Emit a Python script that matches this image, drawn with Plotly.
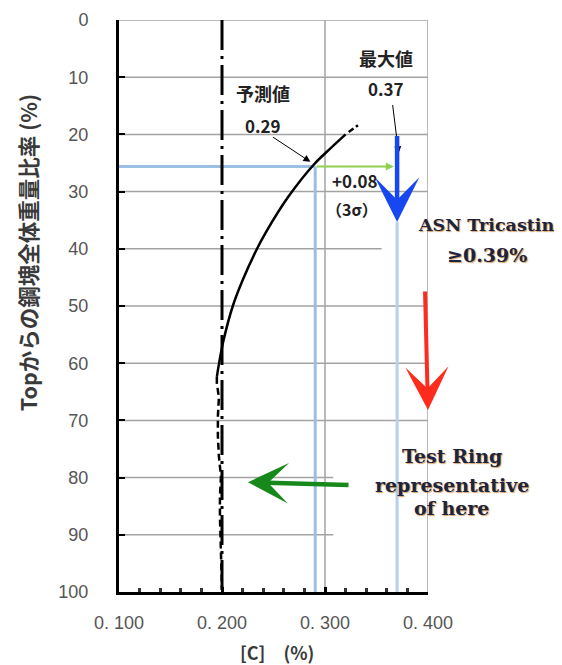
import plotly.graph_objects as go

# ---------------- data ----------------
# main black curve (solid part): carbon [%] vs depth from top [%]
curve_c = [0.320, 0.305, 0.289, 0.264, 0.243, 0.234, 0.220, 0.2105, 0.2015, 0.1966, 0.195]
curve_d = [20.0, 22.5, 25.3, 31.0, 37.0, 40.0, 45.5, 50.0, 56.0, 60.6, 62.4]
# dashed extension at top
top_ext_c = [0.323, 0.332]
top_ext_d = [19.6, 18.4]
# dashed lower part
low_c = [0.195, 0.195, 0.197, 0.196, 0.196, 0.197, 0.199, 0.198, 0.198, 0.199, 0.200, 0.200]
low_d = [62.4, 63.5, 66.0, 69.3, 72.8, 76.3, 79.8, 83.3, 86.8, 91.5, 96.2, 99.6]

ref_c = 0.200          # dash-dot reference line
pred_c = 0.2905        # predicted value 0.29
pred_d = 25.6          # depth where predicted value is read
max_c = 0.370          # maximum value 0.37
max_arrow_top = 20.0
max_arrow_tip = 35.3

x_tick_vals = [0.1, 0.2, 0.3, 0.4]
x_tick_text = ["0. 100", "0. 200", "0. 300", "0. 400"]
y_tick_vals = [0, 10, 20, 30, 40, 50, 60, 70, 80, 90, 100]
grid_rows = [10, 20, 30, 40, 50, 60, 70, 80, 90]
grid_row_end = [0.4, 0.4, 0.4, 0.355, 0.4, 0.4, 0.4, 0.308, 0.308]

CJK = "Noto Sans CJK JP"
SERIF = "DejaVu Serif"
NAVY = "#1d2440"
SHADOW = "1px 1px 1px rgba(205,130,50,0.75)"

fig = go.Figure()

GRID = dict(color="#a3a3a3", width=1.5)
shapes = []
for yv, xe in zip(grid_rows, grid_row_end):
    shapes.append(dict(type="line", xref="x", yref="y", x0=0.1, x1=xe, y0=yv, y1=yv,
                       line=GRID, layer="below"))
for xv in (0.3, 0.4):
    shapes.append(dict(type="line", xref="x", yref="y", x0=xv, x1=xv, y0=0, y1=100,
                       line=GRID, layer="below"))
shapes.append(dict(type="line", xref="x", yref="y", x0=0.1, x1=0.4, y0=0, y1=0,
                   line=GRID, layer="below"))

# blue guide lines
fig.add_trace(go.Scatter(x=[0.1, pred_c], y=[pred_d, pred_d], mode="lines",
                         line=dict(color="#9bbfe3", width=3), hoverinfo="skip"))
fig.add_trace(go.Scatter(x=[pred_c, pred_c], y=[pred_d, 100], mode="lines",
                         line=dict(color="#9bbfe3", width=3), hoverinfo="skip"))
fig.add_trace(go.Scatter(x=[max_c, max_c], y=[max_arrow_tip, 100], mode="lines",
                         line=dict(color="#b4d0ec", width=3), hoverinfo="skip"))

# dash-dot reference line at 0.200
fig.add_trace(go.Scatter(x=[ref_c, ref_c], y=[0, 100], mode="lines",
                         line=dict(color="black", width=3, dash="30px,6px,3px,6px"),
                         hoverinfo="skip"))

# black curve
fig.add_trace(go.Scatter(x=curve_c, y=curve_d, mode="lines",
                         line=dict(color="black", width=2.5, shape="spline"), hoverinfo="skip"))
fig.add_trace(go.Scatter(x=top_ext_c, y=top_ext_d, mode="lines",
                         line=dict(color="black", width=2.5, dash="6px,3px"), hoverinfo="skip"))
fig.add_trace(go.Scatter(x=low_c, y=low_d, mode="lines",
                         line=dict(color="black", width=2.5, dash="7px,4px"),
                         hoverinfo="skip"))

annotations = []

def arrow(x, y, ax, ay, color, width, head, size):
    annotations.append(dict(x=x, y=y, ax=ax, ay=ay, xref="x", yref="y", axref="x", ayref="y",
                            text="", showarrow=True, arrowhead=head, arrowsize=size,
                            arrowwidth=width, arrowcolor=color, standoff=0, startstandoff=0))

# light green +0.08 arrow
arrow(0.3668, pred_d, pred_c, pred_d, "#92d050", 2, 2, 0.8)
# thin black pointer arrows
arrow(0.2858, 24.8, 0.248, 20.3, "black", 1, 2, 1.4)
arrow(0.3715, 23.3, 0.3655, 14.6, "black", 1, 2, 1.4)
# big blue arrow
arrow(max_c, max_arrow_tip, max_c, max_arrow_top, "#1747f0", 4.5, 3, 1.65)
# red arrow
arrow(0.4000, 68.2, 0.3971, 47.2, "#ff2b1c", 4, 3, 1.8)
# green arrow
arrow(0.2252, 80.8, 0.3243, 81.3, "#17891a", 4.5, 3, 1.5)

def label(text, x, y, size, color="#222", family=CJK, bold=True, shadow=None, ref="x"):
    f = dict(family=family, size=size, color=color, weight="bold" if bold else "normal")
    if shadow:
        f["shadow"] = shadow
    annotations.append(dict(x=x, y=y, xref=ref, yref="y" if ref == "x" else "paper",
                            text=text, showarrow=False,
                            font=f, xanchor="center", yanchor="middle"))

label("予測値", 0.2395, 12.7, 18)
label("0.29", 0.2395, 18.4, 17)
label("最大値", 0.3593, 6.6, 18)
label("0.37", 0.3593, 12.0, 17)
label("+0.08", 0.3290, 28.0, 17)
label("（3σ）", 0.3265, 33.1, 16)

label("ASN Tricastin", 1.189, 0.6416, 17.5, NAVY, SERIF, True, SHADOW, "paper")
label("≥0.39%", 1.191, 0.590, 19, NAVY, SERIF, True, SHADOW, "paper")
label("Test Ring", 1.078, 0.2378, 19, NAVY, SERIF, True, SHADOW, "paper")
label("representative", 1.079, 0.187, 19, NAVY, SERIF, True, SHADOW, "paper")
label("of here", 1.076, 0.147, 19, NAVY, SERIF, True, SHADOW, "paper")

# axis titles
annotations.append(dict(x=-0.298, y=0.594, xref="paper", yref="paper",
                        text="Topからの鋼塊全体重量比率 (%)", textangle=-90, showarrow=False,
                        font=dict(family=CJK, size=21.5, color="#3a3a3a", weight="bold"),
                        xanchor="center", yanchor="middle"))
annotations.append(dict(x=0.512, y=-0.105, xref="paper", yref="paper",
                        text="[C]　(%)", showarrow=False,
                        font=dict(family=CJK, size=18, color="#3a3a3a", weight="bold"),
                        xanchor="center", yanchor="middle"))

fig.update_layout(
    width=562, height=665,
    margin=dict(l=111, r=142, t=12, b=81, autoexpand=False),
    paper_bgcolor="white", plot_bgcolor="white",
    showlegend=False,
    shapes=shapes, annotations=annotations,
    xaxis=dict(range=[0.1, 0.4], tickvals=x_tick_vals, ticktext=x_tick_text,
               showgrid=False, zeroline=False, automargin=False,
               showline=True, linecolor="black", linewidth=3,
               ticks="inside", ticklen=5, tickwidth=3, tickcolor="black",
               minor=dict(dtick=0.02, tick0=0.1, ticks="inside", ticklen=4, tickwidth=3,
                          tickcolor="#333", showgrid=False),
               ticklabelstandoff=12,
               tickfont=dict(family="Liberation Sans", size=18, color="#555")),
    yaxis=dict(range=[100, 0], tickvals=y_tick_vals, showgrid=False, zeroline=False,
               automargin=False,
               showline=True, linecolor="black", linewidth=3,
               ticks="inside", ticklen=6, tickwidth=2, tickcolor="black",
               ticklabelstandoff=24,
               tickfont=dict(family="Liberation Sans", size=18, color="#555")),
)

fig.write_html("out.html")
